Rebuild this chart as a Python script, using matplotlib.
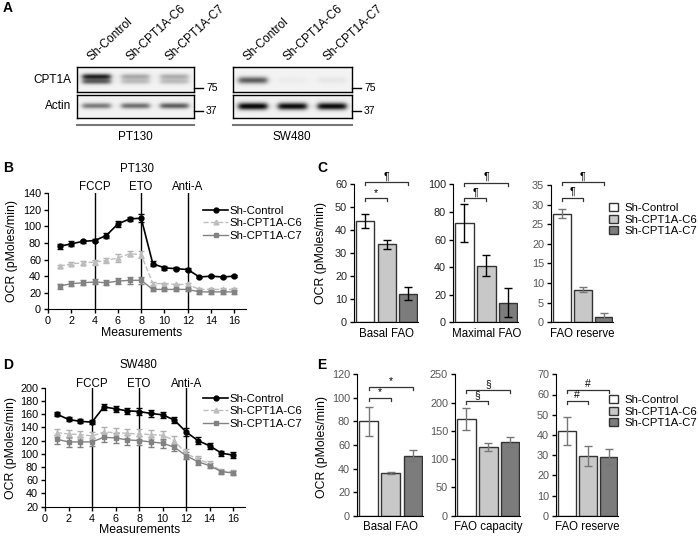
import numpy as np
import matplotlib
matplotlib.use("Agg")
import matplotlib.pyplot as plt
from matplotlib.patches import Patch
from matplotlib.lines import Line2D

plt.rcParams['font.family'] = ['Liberation Sans', 'DejaVu Sans']

W, H = 698, 536

# ---- data ----
lanes = ["Sh-Control", "Sh-CPT1A-C6", "Sh-CPT1A-C7"]
# western blot band intensities (0 = blank, 1 = saturated)
pt130_cpt1a_upper = [0.85, 0.30, 0.28]
pt130_cpt1a_lower = [0.60, 0.22, 0.22]
pt130_actin = [0.50, 0.55, 0.62]
sw480_cpt1a = [0.62, 0.03, 0.05]
sw480_actin = [1.00, 0.97, 0.97]

meas = np.arange(1, 17)
event_x = [4, 8, 12]
event_labels = ["FCCP", "ETO", "Anti-A"]

pt_ctrl = [76, 79, 82, 83, 89, 103, 109, 110, 55, 50, 49, 48, 39, 40, 39, 40]
pt_ctrl_err = [3, 3, 2, 2, 3, 4, 3, 5, 3, 2, 2, 2, 1, 1, 1, 1]
pt_c6 = [52, 55, 56, 57, 59, 62, 67, 66, 31, 31, 30, 30, 24, 24, 24, 24]
pt_c6_err = [2, 2, 2, 3, 3, 5, 3, 4, 2, 1, 1, 2, 2, 2, 2, 2]
pt_c7 = [28, 31, 32, 33, 32, 34, 35, 35, 24, 24, 24, 24, 21, 21, 21, 21]
pt_c7_err = [3, 3, 3, 3, 3, 4, 4, 4, 2, 2, 2, 2, 2, 2, 2, 2]

sw_ctrl = [160, 152, 149, 148, 171, 168, 165, 164, 161, 159, 151, 133, 120, 112, 101, 98]
sw_ctrl_err = [3, 3, 3, 3, 4, 5, 5, 5, 5, 5, 5, 6, 5, 5, 4, 5]
sw_c6 = [132, 130, 129, 127, 133, 132, 131, 130, 129, 128, 120, 100, 92, 85, 74, 72]
sw_c6_err = [6, 6, 6, 6, 7, 7, 7, 7, 7, 7, 7, 8, 5, 4, 3, 3]
sw_c7 = [122, 118, 118, 118, 125, 124, 121, 120, 118, 116, 110, 97, 88, 82, 73, 71]
sw_c7_err = [7, 8, 7, 6, 7, 7, 8, 7, 7, 7, 5, 5, 5, 4, 3, 3]

c_basal = [44, 34, 12.5]
c_basal_err = [3, 2, 3]
c_maximal = [72, 41, 14]
c_maximal_err = [13.5, 7.5, 10.5]
c_reserve = [27.7, 8.3, 1.3]
c_reserve_err = [1.2, 0.6, 1.1]

e_basal = [80, 36, 51]
e_basal_err = [12, 0.8, 5]
e_capacity = [171, 121, 130]
e_capacity_err = [20, 7, 9]
e_reserve = [42, 29.5, 29]
e_reserve_err = [7, 5, 4]

bar_colors = ["white", "#c8c8c8", "#7c7c7c"]

fig = plt.figure(figsize=(W / 100, H / 100), dpi=100)
fig.patch.set_facecolor("white")


def box(l, t, r, b):
    return [l / W, 1 - b / H, (r - l) / W, (b - t) / H]


def ftext(x, y, s, **kw):
    fig.text(x / W, 1 - y / H, s, **kw)


# ---- panel A: blots ----
def blot(rect, bands):
    ax = fig.add_axes(box(*rect))
    xs = np.linspace(0, 3, 360)
    ys = np.linspace(0, 1, 80)
    X, Y = np.meshgrid(xs, ys)
    img = np.full(X.shape, 0.05)
    for amps, yc, sig in bands:
        for i, a in enumerate(amps):
            px = 1 / (1 + np.exp((np.abs(X - (i + 0.5)) - 0.36) / 0.04))
            py = np.exp(-0.5 * ((Y - yc) / sig) ** 2)
            img += a * px * py
    ax.imshow(np.clip(img, 0, 1), cmap="gray_r", vmin=0, vmax=1.05,
              extent=[0, 3, 0, 1], aspect="auto", origin="lower")
    ax.set_xticks([])
    ax.set_yticks([])
    for s in ax.spines.values():
        s.set_linewidth(1)
    return ax


blot((77, 67, 194, 92), [(pt130_cpt1a_upper, 0.62, 0.08), (pt130_cpt1a_lower, 0.42, 0.08)])
blot((77, 95, 194, 118), [(pt130_actin, 0.53, 0.09)])
blot((233, 67, 352, 92), [(sw480_cpt1a, 0.47, 0.10)])
blot((233, 95, 352, 118), [(sw480_actin, 0.51, 0.11)])

ftext(3, 8, "A", fontsize=10, fontweight="bold", va="center")
ftext(71, 80, "CPT1A", fontsize=8.5, ha="right", va="center")
ftext(71, 106, "Actin", fontsize=8.5, ha="right", va="center")
for (l, r) in [(77, 194), (233, 352)]:
    for y, mw in [(88, "75"), (111, "37")]:
        fig.add_artist(Line2D([r / W, (r + 9) / W], [1 - y / H] * 2, color="k", lw=1))
        ftext(r + 12, y, mw, fontsize=7.5, va="center")
    fig.add_artist(Line2D([l / W, r / W], [1 - 125 / H] * 2, color="#777777", lw=1.5))
    for i, lab in enumerate(lanes):
        cx = l + (r - l) * (i + 0.5) / 3
        ftext(cx - 3, 63, lab, fontsize=8.6, rotation=43, ha="left", va="bottom",
              rotation_mode="anchor")
ftext(135, 137, "PT130", fontsize=8.5, ha="center", va="center")
ftext(292, 137, "SW480", fontsize=8.5, ha="center", va="center")

# ---- panels B and D: OCR traces ----
ctrl_style = dict(color="black", marker="o", ms=3.5, lw=1.2, ls="-",
                  ecolor="black", elinewidth=1, capsize=2, capthick=1)
c6_style = dict(color="#bdbdbd", marker="^", ms=3.5, lw=1, ls="--",
                ecolor="#b0b0b0", elinewidth=1, capsize=2, capthick=1)
c7_style = dict(color="#828282", marker="s", ms=3, lw=1, ls="-",
                ecolor="#808080", elinewidth=1, capsize=2, capthick=1)


def trace_panel(rect, series, ylim, ystep, label_off):
    ax = fig.add_axes(box(*rect))
    for vals, errs, st in series:
        ax.errorbar(meas, vals, yerr=errs, zorder=3, **st)
    for x, lbl in zip(event_x, event_labels):
        ax.plot([x, x], ylim, color="black", lw=1, zorder=2)
        ax.annotate(lbl, xy=(x, 1), xycoords=("data", "axes fraction"),
                    xytext=(0, label_off), textcoords="offset points",
                    ha="center", va="baseline", fontsize=8.3)
    ax.set_xlim(0, 17)
    ax.set_ylim(*ylim)
    ax.set_xticks(range(0, 17, 2))
    ax.set_yticks(np.arange(ylim[0], ylim[1] + 1, ystep))
    ax.tick_params(labelsize=7.8, length=3, width=1, pad=2)
    for s in ["top", "right"]:
        ax.spines[s].set_visible(False)
    handles = [Line2D([], [], color=st["color"], marker=st["marker"], ms=st["ms"],
                      ls=st["ls"], lw=st["lw"]) for _, _, st in series]
    return ax, handles


axB, hB = trace_panel((48, 193.3, 246, 309.3),
                      [(pt_ctrl, pt_ctrl_err, ctrl_style),
                       (pt_c6, pt_c6_err, c6_style),
                       (pt_c7, pt_c7_err, c7_style)], (0, 140), 20, 2.5)
axD, hD = trace_panel((45, 387.7, 245, 506.7),
                      [(sw_ctrl, sw_ctrl_err, ctrl_style),
                       (sw_c6, sw_c6_err, c6_style),
                       (sw_c7, sw_c7_err, c7_style)], (20, 200), 20, 0.8)

for hs, y0 in [(hB, 206), (hD, 394)]:
    fig.legend(hs, lanes, loc="upper left", bbox_to_anchor=(203 / W, 1 - y0 / H),
               frameon=False, fontsize=8.2, handlelength=2.2, handletextpad=0.15,
               labelspacing=0.2, borderpad=0, borderaxespad=0)

ftext(3, 168, "B", fontsize=10, fontweight="bold", va="center")
ftext(3, 365, "D", fontsize=10, fontweight="bold", va="center")
ftext(137, 169, "PT130", fontsize=8.3, ha="center", va="center")
ftext(138, 365, "SW480", fontsize=8.3, ha="center", va="center")
ftext(142, 333, "Measurements", fontsize=8.8, ha="center", va="center")
ftext(140, 530, "Measurements", fontsize=8.8, ha="center", va="center")
ftext(12, 251, "OCR (pMoles/min)", fontsize=8.8, rotation=90, ha="center", va="center")
ftext(11, 448, "OCR (pMoles/min)", fontsize=8.8, rotation=90, ha="center", va="center")

# ---- panels C and E: bar charts ----
def bar_panel(rect, vals, errs, ymax, ystep, name, ecol, tcol, brackets):
    ax = fig.add_axes(box(*rect))
    ax.bar(range(3), vals, width=0.85, color=bar_colors, edgecolor="#333333",
           linewidth=1, yerr=errs,
           error_kw=dict(ecolor=ecol, elinewidth=1, capsize=3, capthick=1))
    ax.set_xlim(-0.52, 2.45)
    ax.set_ylim(0, ymax)
    ax.set_yticks(np.arange(0, ymax + 0.1, ystep))
    ax.set_xticks([1], [name])
    ax.tick_params(axis="x", length=0, pad=4, labelsize=8.3)
    ax.tick_params(axis="y", labelsize=7.8, length=3, width=1, pad=2, labelcolor=tcol)
    for s in ["top", "right"]:
        ax.spines[s].set_visible(False)
    ppu = (rect[3] - rect[1]) / ymax
    for i, j, y, sym in brackets:
        d = 3 / ppu
        ax.plot([i, i, j, j], [y - d, y, y, y - d], color="#333333", lw=0.9,
                clip_on=False)
        ax.annotate(sym, xy=((i + j) / 2, y), xytext=(0, 0.5),
                    textcoords="offset points", ha="center", va="bottom",
                    fontsize=7.5, annotation_clip=False)
    return ax


bar_panel((354, 184.3, 418, 322.3), c_basal, c_basal_err, 60, 10, "Basal FAO",
          "black", "#222222", [(0, 1, 53.9, "*"), (0, 2, 60.9, "¶")])
bar_panel((453, 184.3, 518, 322.3), c_maximal, c_maximal_err, 100, 20, "Maximal FAO",
          "black", "#222222", [(0, 1, 90.1, "¶"), (0, 2, 101.2, "¶")])
bar_panel((551, 185, 613, 322.3), c_reserve, c_reserve_err, 35, 5, "FAO reserve",
          "#777777", "#555555", [(0, 1, 31.8, "¶"), (0, 2, 35.7, "¶")])

bar_panel((357, 374.3, 423, 515.7), e_basal, e_basal_err, 120, 20, "Basal FAO",
          "#777777", "#555555", [(0, 1, 100.2, "*"), (0, 2, 109.5, "*")])
bar_panel((455, 374.3, 520, 515.7), e_capacity, e_capacity_err, 250, 50, "FAO capacity",
          "#777777", "#555555", [(0, 1, 202.8, "§"), (0, 2, 222, "§")])
bar_panel((556, 374.3, 618, 515.7), e_reserve, e_reserve_err, 70, 10, "FAO reserve",
          "#777777", "#555555", [(0, 1, 56.8, "#"), (0, 2, 62.2, "#")])

bar_handles = [Patch(facecolor=c, edgecolor="#333333", lw=1) for c in bar_colors]
for y0 in [203, 395]:
    fig.legend(bar_handles, lanes, loc="upper left", bbox_to_anchor=(609 / W, 1 - y0 / H),
               frameon=False, fontsize=8.2, handlelength=0.75, handleheight=0.75,
               handletextpad=0.6, labelspacing=0.12, borderpad=0, borderaxespad=0)

ftext(317, 168, "C", fontsize=10, fontweight="bold", va="center")
ftext(317, 365, "E", fontsize=10, fontweight="bold", va="center")
ftext(321, 253, "OCR (pMoles/min)", fontsize=8.8, rotation=90, ha="center", va="center")
ftext(322, 447, "OCR (pMoles/min)", fontsize=8.8, rotation=90, ha="center", va="center")

fig.savefig("out.png", dpi=100)
